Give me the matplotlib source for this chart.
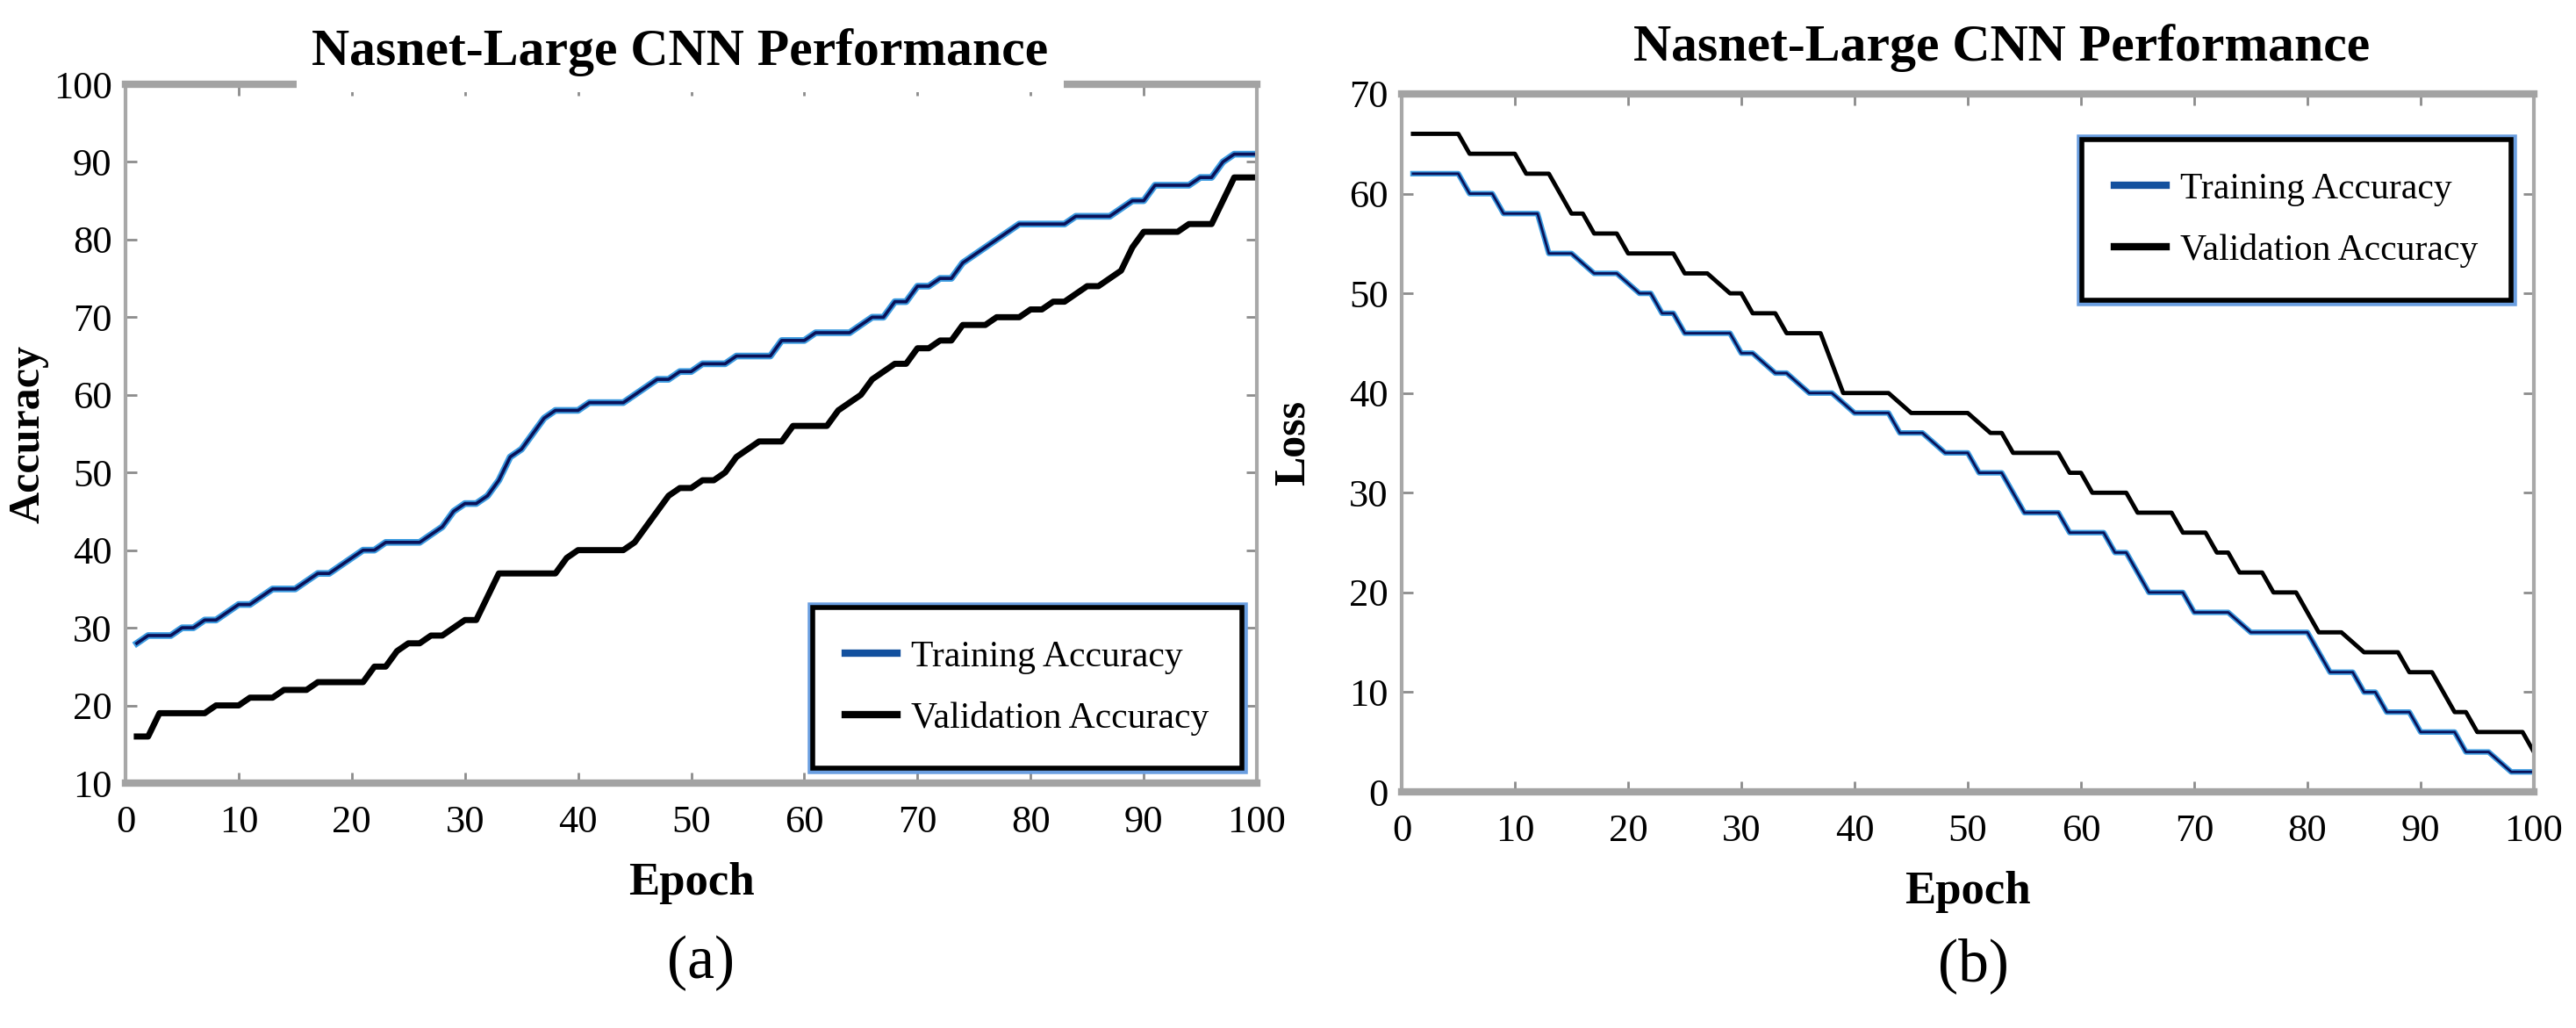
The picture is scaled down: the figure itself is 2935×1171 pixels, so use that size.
import numpy as np
import matplotlib
matplotlib.use('Agg')
import matplotlib.pyplot as plt
import matplotlib.patheffects as pe
from matplotlib.lines import Line2D

plt.rcParams['font.family'] = ['Liberation Serif', 'DejaVu Serif']

epochs = np.arange(1, 101)

# (a) accuracy per epoch
train_acc = [28, 29, 29, 29, 30, 30, 31, 31, 32, 33,
             33, 34, 35, 35, 35, 36, 37, 37, 38, 39,
             40, 40, 41, 41, 41, 41, 42, 43, 45, 46,
             46, 47, 49, 52, 53, 55, 57, 58, 58, 58,
             59, 59, 59, 59, 60, 61, 62, 62, 63, 63,
             64, 64, 64, 65, 65, 65, 65, 67, 67, 67,
             68, 68, 68, 68, 69, 70, 70, 72, 72, 74,
             74, 75, 75, 77, 78, 79, 80, 81, 82, 82,
             82, 82, 82, 83, 83, 83, 83, 84, 85, 85,
             87, 87, 87, 87, 88, 88, 90, 91, 91, 91]
val_acc = [16, 16, 19, 19, 19, 19, 19, 20, 20, 20,
           21, 21, 21, 22, 22, 22, 23, 23, 23, 23,
           23, 25, 25, 27, 28, 28, 29, 29, 30, 31,
           31, 34, 37, 37, 37, 37, 37, 37, 39, 40,
           40, 40, 40, 40, 41, 43, 45, 47, 48, 48,
           49, 49, 50, 52, 53, 54, 54, 54, 56, 56,
           56, 56, 58, 59, 60, 62, 63, 64, 64, 66,
           66, 67, 67, 69, 69, 69, 70, 70, 70, 71,
           71, 72, 72, 73, 74, 74, 75, 76, 79, 81,
           81, 81, 81, 82, 82, 82, 85, 88, 88, 88]

# (b) loss per epoch
train_loss = [62, 62, 62, 62, 62, 60, 60, 60, 58, 58,
              58, 58, 54, 54, 54, 53, 52, 52, 52, 51,
              50, 50, 48, 48, 46, 46, 46, 46, 46, 44,
              44, 43, 42, 42, 41, 40, 40, 40, 39, 38,
              38, 38, 38, 36, 36, 36, 35, 34, 34, 34,
              32, 32, 32, 30, 28, 28, 28, 28, 26, 26,
              26, 26, 24, 24, 22, 20, 20, 20, 20, 18,
              18, 18, 18, 17, 16, 16, 16, 16, 16, 16,
              14, 12, 12, 12, 10, 10, 8, 8, 8, 6,
              6, 6, 6, 4, 4, 4, 3, 2, 2, 2]
val_loss = [66, 66, 66, 66, 66, 64, 64, 64, 64, 64,
            62, 62, 62, 60, 58, 58, 56, 56, 56, 54,
            54, 54, 54, 54, 52, 52, 52, 51, 50, 50,
            48, 48, 48, 46, 46, 46, 46, 43, 40, 40,
            40, 40, 40, 39, 38, 38, 38, 38, 38, 38,
            37, 36, 36, 34, 34, 34, 34, 34, 32, 32,
            30, 30, 30, 30, 28, 28, 28, 28, 26, 26,
            26, 24, 24, 22, 22, 22, 20, 20, 20, 18,
            16, 16, 16, 15, 14, 14, 14, 14, 12, 12,
            12, 10, 8, 8, 6, 6, 6, 6, 6, 4]

legend_labels = ['Training Accuracy', 'Validation Accuracy']
title = 'Nasnet-Large CNN Performance'

W, H = 2935, 1171
fig = plt.figure(figsize=(W / 100, H / 100), dpi=100)


def px_axes(x0, y0, x1, y1):
    return fig.add_axes([x0 / W, 1 - y1 / H, (x1 - x0) / W, (y1 - y0) / H])


def style_axes(ax):
    for side in ['top', 'bottom']:
        ax.spines[side].set_linewidth(6)
        ax.spines[side].set_color('#a3a3a3')
    for side in ['left', 'right']:
        ax.spines[side].set_linewidth(3)
        ax.spines[side].set_color('#a8a8a8')
    ax.tick_params(direction='in', length=9, width=2, color='#8c8c8c',
                   top=True, right=True, labelsize=32)
    ax.tick_params(axis='x', pad=18)
    ax.tick_params(axis='y', pad=11)
    ax.set_xlim(0, 100)
    ax.set_xticks(range(0, 101, 10))


def add_legend(ax, anchor, loc):
    handles = [Line2D([], [], color='#12509e', lw=6),
               Line2D([], [], color='black', lw=6)]
    leg = ax.legend(handles, legend_labels, loc=loc, bbox_to_anchor=anchor,
                    fontsize=30, handlelength=1.4, handletextpad=0.4,
                    labelspacing=0.75, borderpad=0.9, fancybox=False,
                    framealpha=1, borderaxespad=0)
    fr = leg.get_frame()
    fr.set_edgecolor('black')
    fr.set_linewidth(4)
    fr.set_path_effects([pe.Stroke(linewidth=9, foreground='#6a9ee0'), pe.Normal()])
    return leg


# ---- (a) accuracy
ax1 = px_axes(143, 96, 1432, 892)
style_axes(ax1)
ax1.plot(epochs, train_acc, color='#3c9be0', lw=5.5)
ax1.plot(epochs, train_acc, color='#0a1158', lw=2.6)
ax1.plot(epochs, val_acc, color='black', lw=5)
ax1.set_ylim(10, 100)
ax1.set_yticks(range(10, 101, 10))
ax1.set_xlabel('Epoch', fontsize=38, fontweight='bold', labelpad=18)
ax1.set_ylabel('Accuracy', fontsize=36, fontweight='bold')
ax1.yaxis.set_label_coords(-0.068, 0.5)
add_legend(ax1, (0.987, 0.021), 'lower right')
fig.text(775 / W, 1 - 60 / H, title, fontsize=43, fontweight='bold',
         ha='center', va='center',
         bbox=dict(facecolor='white', edgecolor='none', boxstyle='square,pad=0.3'))
fig.text(798 / W, 1 - 1097 / H, '(a)', fontsize=50, ha='center', va='center')

# ---- (b) loss
ax2 = px_axes(1597, 107, 2887, 902)
style_axes(ax2)
ax2.plot(epochs, train_loss, color='#3c9be0', lw=4.5)
ax2.plot(epochs, train_loss, color='#0a1158', lw=2)
ax2.plot(epochs, val_loss, color='black', lw=3.5)
ax2.set_ylim(0, 70)
ax2.set_yticks(range(0, 71, 10))
ax2.set_xlabel('Epoch', fontsize=38, fontweight='bold', labelpad=18)
ax2.set_ylabel('Loss', fontsize=36, fontweight='bold')
ax2.yaxis.set_label_coords(-0.078, 0.5)
add_legend(ax2, (0.980, 0.935), 'upper right')
fig.text(2281 / W, 1 - 55 / H, title, fontsize=43, fontweight='bold',
         ha='center', va='center')
fig.text(2248 / W, 1 - 1100 / H, '(b)', fontsize=50, ha='center', va='center')

fig.savefig('out.png', dpi=100)
